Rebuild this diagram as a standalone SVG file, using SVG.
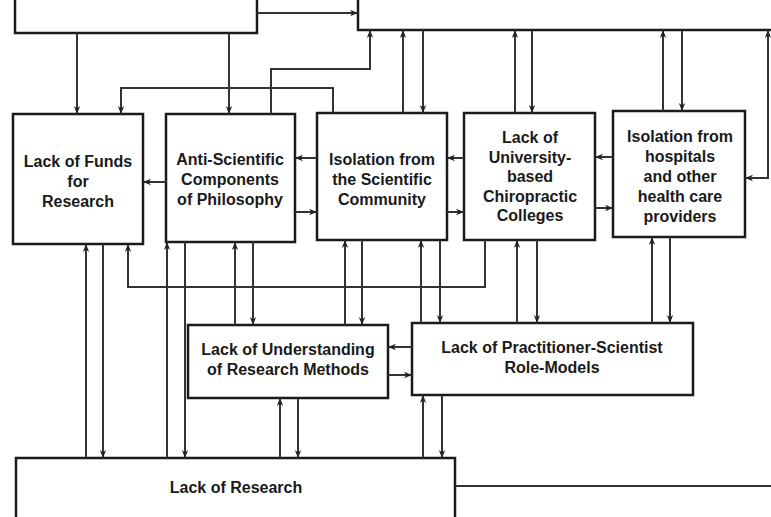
<svg xmlns="http://www.w3.org/2000/svg" width="771" height="517" viewBox="0 0 771 517">
<style>
.box{fill:#fff;stroke:#1a1a1a;stroke-width:2.5}
.t{font-family:"Liberation Sans",Arial,sans-serif;font-weight:bold;font-size:16px;fill:#1a1a1a;text-anchor:middle}
.c path{fill:none;stroke:#333;stroke-width:2;marker-end:url(#a)}
.c path.n{marker-end:none}
.c path.b{marker-start:url(#a)}
</style>
<defs>
<marker id="a" viewBox="0 0 10 10" refX="10" refY="5" markerWidth="8" markerHeight="8" orient="auto-start-reverse" markerUnits="userSpaceOnUse">
<path d="M0,1 L10,5 L0,9 L3,5 Z" fill="#222"/>
</marker>
</defs>
<rect width="771" height="517" fill="#fff"/>
<g id="top-left"><rect class="box" x="15" y="-20" width="242" height="53"/></g>
<g id="top-right"><rect class="box" x="358" y="-20" width="430" height="50"/></g>
<g id="funds"><rect class="box" x="13" y="114" width="130" height="130"/>
<text class="t" x="78" y="167">Lack of Funds</text><text class="t" x="78" y="187">for</text><text class="t" x="78" y="207">Research</text></g>
<g id="anti"><rect class="box" x="166" y="114" width="129" height="128"/>
<text class="t" x="230" y="165">Anti-Scientific</text><text class="t" x="230" y="185">Components</text><text class="t" x="230" y="205">of Philosophy</text></g>
<g id="isolation"><rect class="box" x="317" y="113" width="130" height="127"/>
<text class="t" x="382" y="165">Isolation from</text><text class="t" x="382" y="185">the Scientific</text><text class="t" x="382" y="205">Community</text></g>
<g id="university"><rect class="box" x="464" y="113" width="131" height="127"/>
<text class="t" x="530" y="143">Lack of</text><text class="t" x="530" y="162.5">University-</text><text class="t" x="530" y="182">based</text><text class="t" x="530" y="201.5">Chiropractic</text><text class="t" x="530" y="221">Colleges</text></g>
<g id="hospitals"><rect class="box" x="613" y="111" width="132" height="126"/>
<text class="t" x="680" y="142">Isolation from</text><text class="t" x="680" y="162">hospitals</text><text class="t" x="680" y="182">and other</text><text class="t" x="680" y="202">health care</text><text class="t" x="680" y="222">providers</text></g>
<g id="understanding"><rect class="box" x="188" y="325" width="200" height="73"/>
<text class="t" x="288" y="355">Lack of Understanding</text><text class="t" x="288" y="375">of Research Methods</text></g>
<g id="practitioner"><rect class="box" x="412" y="323" width="281" height="72"/>
<text class="t" x="552" y="353">Lack of Practitioner-Scientist</text><text class="t" x="552" y="373">Role-Models</text></g>
<g id="research"><rect class="box" x="16" y="458" width="439" height="70"/>
<text class="t" x="236" y="493">Lack of Research</text></g>
<g id="connectors" class="c">
<path d="M77,33 V114"/>
<path d="M229,33 V114"/>
<path d="M333,113 V88 H121 V114"/>
<path d="M271,114 V69 H370 V30"/>
<path d="M257,13 H358"/>
<path d="M403,113 V30"/>
<path d="M423,30 V113"/>
<path d="M515,113 V30"/>
<path d="M532,30 V113"/>
<path d="M663,111 V30"/>
<path d="M682,30 V111"/>
<path class="b" d="M745,178 H768 V30"/>
<path d="M166,182 H143"/>
<path d="M317,158 H295"/>
<path d="M295,212 H317"/>
<path d="M464,158 H447"/>
<path d="M447,212 H464"/>
<path d="M613,157 H595"/>
<path d="M595,208 H613"/>
<path d="M412,347 H388"/>
<path d="M388,375 H412"/>
<path d="M86,458 V244"/>
<path d="M103,244 V458"/>
<path d="M485,240 V287 H128 V244"/>
<path d="M167,458 V242"/>
<path d="M185,242 V458"/>
<path d="M235,325 V242"/>
<path d="M253,242 V325"/>
<path d="M345,325 V240"/>
<path d="M362,240 V325"/>
<path d="M421,323 V240"/>
<path d="M440,240 V323"/>
<path d="M517,323 V240"/>
<path d="M537,240 V323"/>
<path d="M652,323 V237"/>
<path d="M670,237 V323"/>
<path d="M280,458 V398"/>
<path d="M298,398 V458"/>
<path d="M423,458 V395"/>
<path d="M442,395 V458"/>
<path class="n" d="M455,486 H771"/>
</g>
</svg>
